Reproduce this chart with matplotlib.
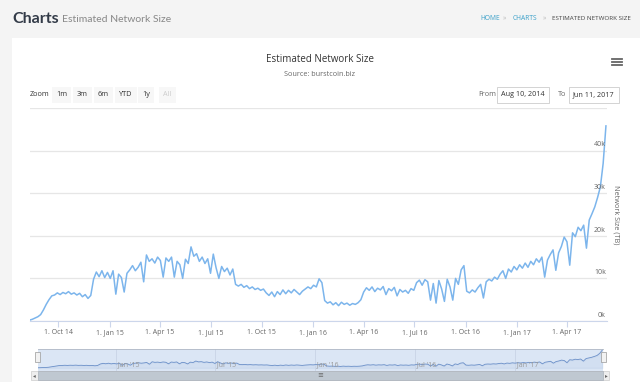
import matplotlib
matplotlib.use("Agg")
import matplotlib.pyplot as plt
import matplotlib.dates as mdates
from matplotlib.lines import Line2D
from matplotlib.patches import Rectangle
import pandas as pd

# estimated network size (thousand TB), one reading every 5 days from Aug 10, 2014
size_k = [
    0.2, 0.4, 0.7, 1.0, 1.5, 2.6, 3.9, 5.0, 5.9, 6.1,
    6.6, 6.2, 6.7, 6.4, 6.9, 6.3, 6.6, 6.1, 6.5, 5.7,
    6.2, 5.3, 6.0, 9.8, 11.5, 10.4, 11.8, 10.2, 11.4, 10.0,
    11.8, 6.3, 11.0, 10.2, 6.8, 11.2, 12.0, 13.0, 11.8, 12.6,
    13.8, 9.2, 15.5, 14.0, 14.6, 13.6, 15.0, 14.2, 10.3, 14.8,
    14.0, 15.0, 10.3, 14.0, 13.2, 10.0, 14.5, 13.5, 17.4, 15.2,
    15.8, 14.0, 15.0, 13.5, 14.6, 11.2, 15.7, 12.5, 10.0, 12.8,
    11.6, 12.4, 10.8, 12.2, 8.6, 8.2, 8.6, 7.9, 8.3, 7.6,
    8.0, 7.4, 7.7, 7.2, 7.5, 6.6, 6.0, 6.8, 5.7, 6.9,
    6.2, 7.3, 6.4, 7.2, 6.6, 7.4, 6.8, 6.2, 7.0, 7.5,
    8.0, 7.6, 8.4, 8.0, 9.9, 9.0, 4.8, 4.2, 4.5, 3.8,
    4.3, 3.6, 4.4, 3.9, 4.2, 3.7, 4.1, 3.9, 4.3, 5.0,
    6.8, 7.8, 7.2, 8.0, 6.9, 7.7, 7.3, 8.1, 6.2, 7.6,
    7.1, 7.9, 5.9, 7.4, 6.8, 7.2, 6.5, 7.6, 7.2, 9.0,
    9.6, 8.4, 9.7, 9.2, 4.9, 8.8, 4.2, 9.5, 7.5, 4.6,
    9.8, 8.0, 4.9, 10.0, 8.6, 12.0, 13.0, 7.0, 6.6, 7.3,
    6.8, 7.8, 8.6, 5.4, 9.2, 9.8, 9.4, 10.3, 9.8, 11.0,
    11.8, 10.0, 12.2, 11.5, 12.8, 12.0, 13.2, 12.4, 13.6, 12.6,
    14.0, 13.2, 14.6, 13.8, 15.0, 10.3, 14.3, 15.6, 16.7, 11.9,
    16.0, 17.5, 19.7, 18.6, 13.1, 20.7, 19.8, 22.0, 21.2, 22.5,
    17.1, 23.7, 25.2, 26.8, 29.0, 31.5, 37.0, 45.8,
]
dates = pd.date_range("2014-08-10", periods=len(size_k), freq="5D")
size_tb = [v * 1000 for v in size_k]

y_ticks = [0, 10000, 20000, 30000, 40000, 50000]
y_labels = ["0k", "10k", "20k", "30k", "40k", ""]
nav_labels = ["Jan '15", "Jul '15", "Jan '16", "Jul '16", "Jan '17"]
nav_dates = ["2015-01-01", "2015-07-01", "2016-01-01", "2016-07-01", "2017-01-01"]
zoom_buttons = ["1m", "3m", "6m", "YTD", "1y", "All"]

W, H = 640, 382
LINE = "#7cb5ec"
GRID = "#e6e6e6"
AXIS = "#ccd6eb"
TXT = "#666666"
FONT = ["Open Sans", "DejaVu Sans"]
plt.rcParams["font.family"] = FONT


def box(x0, y0, x1, y1):
    return [x0 / W, 1 - y1 / H, (x1 - x0) / W, (y1 - y0) / H]


def ftext(x, y, s, **kw):
    return fig.text(x / W, 1 - y / H, s, **kw)


fig = plt.figure(figsize=(W / 100, H / 100), dpi=100, facecolor="#f4f4f4")

# white panel
fig.add_artist(Rectangle((12 / W, 0), 1, 1 - 38 / H, transform=fig.transFigure,
                         fc="white", ec="none", zorder=0))

# page header
ftext(12, 19, "Charts", fontsize=11.5, fontweight="bold", color="#333b48",
      va="center", family=["Lato", "DejaVu Sans"])
ftext(62, 20, "Estimated Network Size", fontsize=7.5, color="#888888",
      va="center", family=["Lato", "DejaVu Sans"])
ftext(480, 19, "HOME", fontsize=4.8, color="#3aa0c9", va="center")
ftext(503, 19, "»", fontsize=4.8, color="#bbbbbb", va="center")
ftext(513, 19, "CHARTS", fontsize=4.8, color="#3aa0c9", va="center")
ftext(543, 19, "»", fontsize=4.8, color="#bbbbbb", va="center")
ftext(552, 19, "ESTIMATED NETWORK SIZE", fontsize=4.5, color="#444444",
      va="center")

# chart title
ftext(320, 59, "Estimated Network Size", fontsize=7, color="#333333",
      ha="center", va="center")
ftext(320, 75, "Source: burstcoin.biz", fontsize=5.2, color="#666666",
      ha="center", va="center")

# hamburger menu
for yy in (59, 62, 65):
    fig.add_artist(Line2D([612 / W, 622 / W], [1 - yy / H, 1 - yy / H],
                          color="#666666", lw=1.3, transform=fig.transFigure))

# zoom buttons
ftext(30, 95, "Zoom", fontsize=5.2, color="#333333", va="center")
bx = 56
for lab in zoom_buttons:
    col = "#cccccc" if lab == "All" else "#333333"
    ftext(bx, 95, lab, fontsize=5.2, color=col, va="center",
          bbox=dict(boxstyle="square,pad=0.6", fc="#f7f7f7", ec="none"))
    bx += 21 if lab != "YTD" else 23

# date range inputs
ftext(478, 95, "From", fontsize=5.2, color="#666666", va="center")
ftext(501, 95, "Aug 10, 2014", fontsize=5.2, color="#333333", va="center",
      bbox=dict(boxstyle="square,pad=0.6", fc="white", ec="#cccccc", lw=0.6))
ftext(558, 95, "To", fontsize=5.2, color="#666666", va="center")
ftext(573, 95, "Jun 11, 2017", fontsize=5.2, color="#333333", va="center",
      bbox=dict(boxstyle="square,pad=0.6", fc="white", ec="#cccccc", lw=0.6))

# main chart
start = pd.Timestamp("2014-08-10")
end = pd.Timestamp("2017-06-11")
ax = fig.add_axes(box(29.5, 108, 606.5, 321))
ax.set_facecolor("none")
ax.plot(dates, size_tb, color=LINE, lw=1.1, zorder=3)
ax.set_xlim(start, end)
ax.set_ylim(0, 50000)
ax.set_yticks(y_ticks)
ax.tick_params(axis="y", length=0, labelleft=False)
ax.grid(axis="y", color=GRID, lw=0.9)
ax.set_axisbelow(True)
for s in ("top", "left", "right"):
    ax.spines[s].set_visible(False)
ax.spines["bottom"].set_color(AXIS)
ax.spines["bottom"].set_linewidth(0.8)
ax.xaxis.set_major_locator(mdates.MonthLocator(bymonth=[1, 4, 7, 10]))
ax.xaxis.set_major_formatter(mdates.DateFormatter("1. %b %y"))
ax.tick_params(axis="x", length=4, width=0.8, color=AXIS, labelsize=5,
               labelcolor=TXT, pad=2)
ytr = ax.get_yaxis_transform()
for v, lab in zip(y_ticks, y_labels):
    ax.text(0.999, v + 500, lab, transform=ytr, ha="right", va="bottom",
            fontsize=5, color=TXT, zorder=4)
ftext(616, 215, "Network Size (TB)", fontsize=5.2, color=TXT, rotation=270,
      ha="center", va="center")

# navigator
nav = fig.add_axes(box(37.5, 349, 603, 371))
nav.set_facecolor("#dbe6f5")
nav.plot(dates, size_tb, color="#6a8fc8", lw=0.6)
nav.fill_between(dates, size_tb, color="#6a8fc8", alpha=0.08)
nav.set_xlim(start, end)
nav.set_ylim(-8000, 48000)
nav.set_xticks(pd.to_datetime(nav_dates))
nav.set_xticklabels([])
nav.set_yticks([])
nav.tick_params(axis="x", length=0)
nav.grid(axis="x", color="#c8d4e6", lw=0.6)
for s in nav.spines.values():
    s.set_visible(False)
nav.spines["top"].set_visible(True)
nav.spines["top"].set_color("#b0b8c4")
nav.spines["top"].set_linewidth(0.6)
for d, lab in zip(pd.to_datetime(nav_dates), nav_labels):
    nav.text(d, 0.12, " " + lab, transform=nav.get_xaxis_transform(),
             fontsize=5, color="#999999", ha="left", va="bottom")

# navigator handles
for hx in (37.5, 603):
    fig.add_artist(Rectangle(((hx - 2.5) / W, 1 - 362 / H), 5 / W, 10 / H,
                             transform=fig.transFigure, fc="#f2f2f2",
                             ec="#999999", lw=0.5, zorder=5))

# scrollbar
fig.add_artist(Rectangle((31 / W, 1 - 380 / H), 578 / W, 9 / H,
                         transform=fig.transFigure, fc="#eeeeee", ec="#cccccc",
                         lw=0.5))
fig.add_artist(Rectangle((38 / W, 1 - 380 / H), 565 / W, 9 / H,
                         transform=fig.transFigure, fc="#bfc8d1", ec="#aab2bb",
                         lw=0.5))
ftext(34.5, 375.5, "◂", fontsize=4, color="#666666", ha="center", va="center",
      family=["DejaVu Sans"])
ftext(606, 375.5, "▸", fontsize=4, color="#666666", ha="center", va="center",
      family=["DejaVu Sans"])
ftext(320, 375.5, "≡", fontsize=5, color="#666666", ha="center", va="center",
      family=["DejaVu Sans"])

fig.savefig("out.png", dpi=100, facecolor=fig.get_facecolor())
